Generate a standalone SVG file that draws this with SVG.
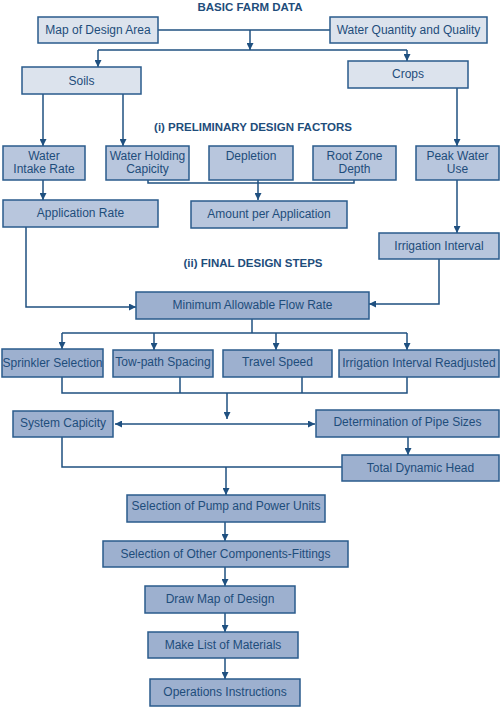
<svg xmlns="http://www.w3.org/2000/svg" width="500" height="707" viewBox="0 0 500 707">
<defs>
<marker id="ah" viewBox="0 0 10 10" refX="10" refY="5" markerWidth="7" markerHeight="7" orient="auto-start-reverse" markerUnits="userSpaceOnUse">
<path d="M0,0 L10,5 L0,10 Z" fill="#1f5080"/>
</marker>
</defs>
<style>
.b rect{stroke:#2a5b8c;stroke-width:1.5}
.l1{fill:#dce3ed}
.l2{fill:#b8c6dd}
.l3{fill:#9db0cf}
text{font-family:"Liberation Sans",Arial,sans-serif;font-size:12px;fill:#1e4d7b;text-anchor:middle}
.h{font-weight:bold;font-size:11.5px}
.c path{fill:none;stroke:#1f5080;stroke-width:1.5}
.c .a{marker-end:url(#ah)}
</style>
<rect width="500" height="707" fill="#ffffff"/>
<text class="h" x="250" y="11">BASIC FARM DATA</text>
<text class="h" x="253" y="131">(i) PRELIMINARY DESIGN FACTORS</text>
<text class="h" x="253" y="267">(ii) FINAL DESIGN STEPS</text>

<g class="c" id="connectors">
<path d="M158,30 H330"/>
<path class="a" d="M250,30 V50"/>
<path d="M98,50 H407"/>
<path class="a" d="M98,50 V67"/>
<path class="a" d="M407,50 V61"/>
<path class="a" d="M43,94 V146"/>
<path class="a" d="M123,94 V146"/>
<path class="a" d="M457,88 V146"/>
<path d="M148,180 V183 H354 V180"/>
<path class="a" d="M258,180 V200"/>
<path class="a" d="M43,180 V200"/>
<path class="a" d="M457,180 V233"/>
<path class="a" d="M26,227 V307 H136"/>
<path class="a" d="M439,259 V304 H369"/>
<path d="M252,319 V333"/>
<path d="M62,333 H407"/>
<path class="a" d="M62,333 V349"/>
<path class="a" d="M154,333 V350"/>
<path class="a" d="M276,333 V350"/>
<path class="a" d="M407,333 V350"/>
<path d="M62,377 V393 H407 V377"/>
<path d="M180,377 V393"/>
<path d="M302,377 V393"/>
<path class="a" d="M227,393 V419"/>
<path class="a" d="M215,424 H115"/>
<path class="a" d="M215,424 H315"/>
<path class="a" d="M408,437 V455"/>
<path d="M62,437 V467 H342"/>
<path class="a" d="M226,467 V495"/>
<path class="a" d="M225,522 V541"/>
<path class="a" d="M225,567 V586"/>
<path class="a" d="M225,613 V632"/>
<path class="a" d="M225,658 V679"/>
</g>

<g class="b" id="map"><rect class="l1" x="38" y="17" width="120" height="26"/><text x="98" y="34">Map of Design Area</text></g>
<g class="b" id="water"><rect class="l1" x="330" y="17" width="157" height="26"/><text x="408.5" y="34">Water Quantity and Quality</text></g>
<g class="b" id="soils"><rect class="l1" x="22" y="67" width="119" height="27"/><text x="81.5" y="85">Soils</text></g>
<g class="b" id="crops"><rect class="l1" x="348" y="61" width="120" height="27"/><text x="408" y="78">Crops</text></g>

<g class="b" id="intake"><rect class="l2" x="3" y="146" width="82" height="34"/><text x="44" y="160">Water</text><text x="44" y="173">Intake Rate</text></g>
<g class="b" id="holding"><rect class="l2" x="106" y="146" width="83" height="34"/><text x="147.5" y="160">Water Holding</text><text x="147.5" y="173">Capicity</text></g>
<g class="b" id="depletion"><rect class="l2" x="209" y="146" width="84" height="34"/><text x="251" y="160">Depletion</text></g>
<g class="b" id="rootzone"><rect class="l2" x="313" y="146" width="83" height="34"/><text x="354.5" y="160">Root Zone</text><text x="354.5" y="173">Depth</text></g>
<g class="b" id="peak"><rect class="l2" x="416" y="146" width="83" height="34"/><text x="457.5" y="160">Peak Water</text><text x="457.5" y="173">Use</text></g>
<g class="b" id="apprate"><rect class="l2" x="3" y="200" width="155" height="27"/><text x="80.5" y="217">Application Rate</text></g>
<g class="b" id="amount"><rect class="l2" x="191" y="201" width="156" height="27"/><text x="269" y="218">Amount per Application</text></g>
<g class="b" id="interval"><rect class="l2" x="379" y="233" width="120" height="26"/><text x="439" y="250">Irrigation Interval</text></g>

<g class="b" id="minflow"><rect class="l3" x="136" y="292" width="233" height="27"/><text x="252.5" y="309">Minimum Allowable Flow Rate</text></g>
<g class="b" id="sprinkler"><rect class="l3" x="2" y="349" width="101" height="28"/><text x="52.5" y="367">Sprinkler Selection</text></g>
<g class="b" id="towpath"><rect class="l3" x="113" y="350" width="100" height="27"/><text x="163" y="366">Tow-path Spacing</text></g>
<g class="b" id="travel"><rect class="l3" x="223" y="350" width="109" height="27"/><text x="277.5" y="366">Travel Speed</text></g>
<g class="b" id="readjusted"><rect class="l3" x="339" y="350" width="160" height="27"/><text x="419" y="367">Irrigation Interval Readjusted</text></g>
<g class="b" id="capacity"><rect class="l3" x="13" y="411" width="100" height="26"/><text x="63" y="427">System Capicity</text></g>
<g class="b" id="pipes"><rect class="l3" x="316" y="410" width="183" height="27"/><text x="407.5" y="426">Determination of Pipe Sizes</text></g>
<g class="b" id="head"><rect class="l3" x="342" y="455" width="157" height="26"/><text x="420.5" y="472">Total Dynamic Head</text></g>
<g class="b" id="pump"><rect class="l3" x="127" y="495" width="198" height="27"/><text x="226" y="510">Selection of Pump and Power Units</text></g>
<g class="b" id="fittings"><rect class="l3" x="103" y="541" width="245" height="26"/><text x="225.5" y="558">Selection of Other Components-Fittings</text></g>
<g class="b" id="drawmap"><rect class="l3" x="145" y="586" width="150" height="27"/><text x="220" y="603">Draw Map of Design</text></g>
<g class="b" id="materials"><rect class="l3" x="148" y="632" width="150" height="26"/><text x="223" y="649">Make List of Materials</text></g>
<g class="b" id="operations"><rect class="l3" x="150" y="679" width="150" height="27"/><text x="225" y="696">Operations Instructions</text></g>
</svg>
